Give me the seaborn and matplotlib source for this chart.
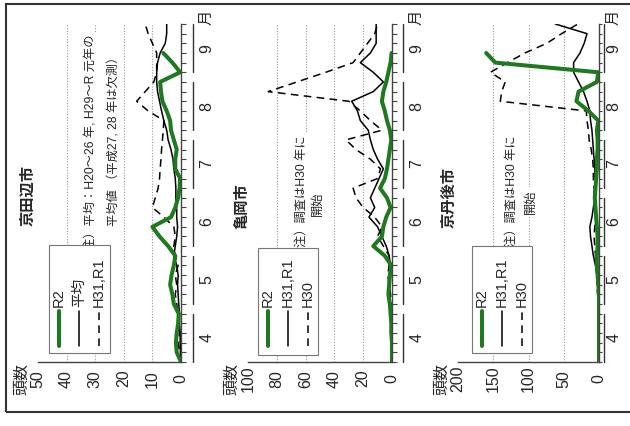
import numpy as np
import pandas as pd
import matplotlib
matplotlib.use("Agg")
import matplotlib.pyplot as plt
import seaborn as sns
from matplotlib.patches import Rectangle
from matplotlib.lines import Line2D
from matplotlib import transforms

sns.set_theme(style="white")
plt.rcParams["font.family"] = ["Liberation Sans", "Noto Sans CJK JP"]

# ---------------- data (5-day periods, Apr-Sep) ----------------
months = ["4", "5", "6", "7", "8", "9"]
periods = list(range(36))

# 京田辺市
kyotanabe_r2 = [0, 1.5, 1.8, 1.5, 1, 0.8, 2.5, 3, 3.8, 3.3, 2.5, 2, 4.5, 7.5, 10,
                3.5, 2, 1, 0.5, 0.3, 2, 2, 1.5, 2.5, 3.5, 3.8, 5, 6.5, 7, 7.3,
                0.3, 3, 6.2]
kyotanabe_avg = [0, 0.2, 0.3, 0.3, 0.5, 0.5, 0.8, 1, 1.2, 1, 1.5, 2.5, 2, 1.5,
                 1.2, 1.5, 1.5, 1.8, 1.8, 2, 2.5, 2.8, 3.5, 4.5, 5, 6, 6.8, 7.5,
                 8.2, 8.5, 8.5, 8.2, 7.3, 5.5, 5, 5]
kyotanabe_h31 = [0, 0.5, 1, 0.5, 1, 1, 1.5, 2, 1.5, 2, 1, 2, 2.5, 2, 2.5, 6, 10,
                 9, 8, 7.5, 7.3, 7, 6.8, 6.5, 6.2, 6, 11.5, 15.5, 12.5, 9.5, 8.5,
                 8.5, 8.5, 10, 11.5, 12.5]

# 亀岡市
kameoka_r2 = [0, 0, 0, 0.5, 0.5, 1, 1.5, 2.5, 2, 1.5, 0.5, 5, 13, 7, 6, 4, 1,
              3.5, 8.3, 5, 3.5, 2.5, 1.5, 0.5, 1.5, 3.5, 5, 7, 6, 4, 2.5, 1, 0.3]
kameoka_h31 = [0, 0, 0, 0, 0, 0.5, 1, 2, 1.5, 1, 1, 2, 4, 7, 10, 16, 12, 15, 12,
               9, 6, 10, 13, 15, 16.5, 22, 24, 28, 13, 6, 13, 22, 15, 11, 11, 11]
kameoka_h30 = [0, 0, 0, 0, 0, 0, 0.5, 1, 2, 3, 2, 2, 6, 10, 7, 12, 20, 25, 27,
               10, 8, 15, 25, 32, 7, 15, 22, 30, 86, 66, 46, 27, 22, 17, 12, 10]

# 京丹後市
kyotango_r2 = [0, 0, 0, 0, 0, 0, 0, 0, 1, 2, 3, 3, 2, 2, 3, 4, 5, 6, 5, 4, 3, 3,
               2, 2, 3, 1, 15, 32, 29, 3, 1, 147, 160]
kyotango_h31 = [0, 0, 0, 0, 0, 0, 0.5, 1, 2, 3, 5, 8, 10, 12, 13, 10, 8, 6, 5,
                5.5, 6, 7, 8, 9, 10, 12, 13, 17, 22, 29, 36, 36, 27, 21, 17, 62]
kyotango_h30 = [0, 0, 0, 0, 0, 0.5, 1, 2, 3, 3, 4, 5, 6, 7, 6, 5, 6, 6, 7, 8,
                8, 9, 11, 14, 15, 17, 18, 140, 138, 133, 154, 130, 105, 74, 53,
                30]

# ---------------- layout helpers (pixel coordinates) ----------------
W, H = 630, 426
fig = plt.figure(figsize=(W / 100, H / 100), dpi=100)
fig.patch.set_facecolor("white")


def fx(px):
    return px / W


def fy(py):
    return 1 - py / H


GREEN = "#1f7a1f"
FONT_CJK = ["Noto Sans CJK JP", "Liberation Sans"]

panels = [
    dict(title="京田辺市", left=38, right=181, xmax=50, ticks=[0, 10, 20, 30, 40, 50],
         series=[("R2", kyotanabe_r2, "g"), ("平均", kyotanabe_avg, "s"),
                 ("H31,R1", kyotanabe_h31, "d")],
         title_xy=(27, 196), leg=(49, 110, 245, 353), seg=12, lab=26, tick=3.5,
         notes=[("注）平均：H20～26 年, H29～R 元年の", 91, 250),
                ("平均値 （平成27, 28 年は欠測）", 114, 226)]),
    dict(title="亀岡市", left=248, right=392, xmax=100, ticks=[0, 20, 40, 60, 80, 100],
         series=[("R2", kameoka_r2, "g"), ("H31,R1", kameoka_h31, "s"),
                 ("H30", kameoka_h30, "d")],
         title_xy=(241, 206), leg=(258, 318, 248, 355), seg=11, lab=25, tick=3.5,
         notes=[("注）調査はH30 年に", 302, 247), ("開始", 318, 216)]),
    dict(title="京丹後市", left=458, right=599, xmax=200, ticks=[0, 50, 100, 150, 200],
         series=[("R2", kyotango_r2, "g"), ("H31,R1", kyotango_h31, "s"),
                 ("H30", kyotango_h30, "d")],
         title_xy=(449, 197), leg=(472, 532, 246, 353), seg=5, lab=15, tick=2.5,
         notes=[("注）調査はH30 年に", 512, 247), ("開始", 531, 214)]),
]

TOP, BOTTOM = 24, 362

styles = {
    "g": dict(color=GREEN, linewidth=2.9, linestyle="-"),
    "s": dict(color="black", linewidth=1.1, linestyle="-"),
    "d": dict(color="black", linewidth=1.1, linestyle=(0, (5, 3.5))),
}

for p in panels:
    ax = fig.add_axes([fx(p["left"]), fy(BOTTOM), fx(p["right"]) - fx(p["left"]),
                       fy(TOP) - fy(BOTTOM)])
    ax.set_facecolor("white")
    for t in p["ticks"][1:-1]:
        ax.axvline(t, color="#9a9a9a", linestyle=(0, (1, 1.5)), linewidth=0.8, zorder=0)
    for key in ["d", "s", "g"]:
        for name, vals, st in p["series"]:
            if st != key:
                continue
            df = pd.DataFrame({"count": vals, "period": periods[:len(vals)]})
            sns.lineplot(data=df, x="count", y="period", orient="y", sort=False,
                         estimator=None, ax=ax, legend=False, **styles[st])
    ax.set_xlim(p["xmax"], 0)
    ax.set_ylim(0, 35)
    ax.set_xlabel("")
    ax.set_ylabel("")
    for s in ["top", "left"]:
        ax.spines[s].set_visible(False)
    for s in ["bottom", "right"]:
        ax.spines[s].set_color("#444444")
        ax.spines[s].set_linewidth(1.0)
    ax.set_xticks(p["ticks"])
    ax.set_xticklabels([str(t) for t in p["ticks"]], rotation=90, va="center",
                       fontsize=11.5)
    ax.tick_params(axis="x", length=0, pad=12)
    ax.yaxis.tick_right()
    ax.set_yticks([6 * m + 2.5 for m in range(6)])
    ax.set_yticklabels(months, rotation=90, ha="center", va="center", fontsize=11.5)
    ax.set_yticks(periods, minor=True)
    ax.tick_params(axis="y", which="major", length=0, pad=p["lab"] * 0.72)
    ax.tick_params(axis="y", which="minor", length=p["tick"], width=0.8,
                   color="#444444", direction="out", right=True, left=False)
    trans = transforms.offset_copy(
        transforms.blended_transform_factory(ax.transAxes, ax.transData),
        fig=fig, x=p["seg"], y=0, units="dots")
    for m in range(6):
        ax.plot([1, 1], [6 * m, 6 * m + 5], transform=trans, clip_on=False,
                color="#333333", linewidth=1.0)

    tx, ty = p["title_xy"]
    fig.text(fx(tx), fy(ty), p["title"], rotation=90, ha="center", va="center",
             fontsize=11, fontweight="bold", family=FONT_CJK)
    fig.text(fx(p["left"] - 16), fy(379), "頭数", rotation=90, ha="center",
             va="center", fontsize=11.5, family=FONT_CJK)
    fig.text(fx(p["right"] + p["lab"] - 1), fy(17), "月", rotation=90, ha="center",
             va="center", fontsize=11, family=FONT_CJK)
    for txt, nx, ny in p["notes"]:
        fig.text(fx(nx), fy(ny), txt, rotation=90, ha="center", va="bottom",
                 fontsize=8.8, family=["Liberation Sans", "Noto Sans CJK JP"],
                 bbox=dict(facecolor="white", edgecolor="none", pad=1.5), zorder=4)
    l, r, t, b = p["leg"]
    fig.add_artist(Rectangle((fx(l), fy(b)), fx(r) - fx(l), fy(t) - fy(b),
                             transform=fig.transFigure, facecolor="white",
                             edgecolor="#777777", linewidth=0.8, zorder=5))
    for k, (name, vals, st) in enumerate(p["series"]):
        cx = l + 10 + k * 20
        fig.add_artist(Line2D([fx(cx), fx(cx)], [fy(346), fy(311)],
                              transform=fig.transFigure, zorder=6, **styles[st]))
        fig.text(fx(cx), fy(307), name, rotation=90, ha="center", va="bottom",
                 fontsize=10.5, zorder=6)

fig.add_artist(Rectangle((fx(6), fy(412)), fx(640) - fx(6), fy(4) - fy(412),
                         transform=fig.transFigure, fill=False,
                         edgecolor="#333333", linewidth=1.5, zorder=7))

fig.savefig("out.png", dpi=100)
